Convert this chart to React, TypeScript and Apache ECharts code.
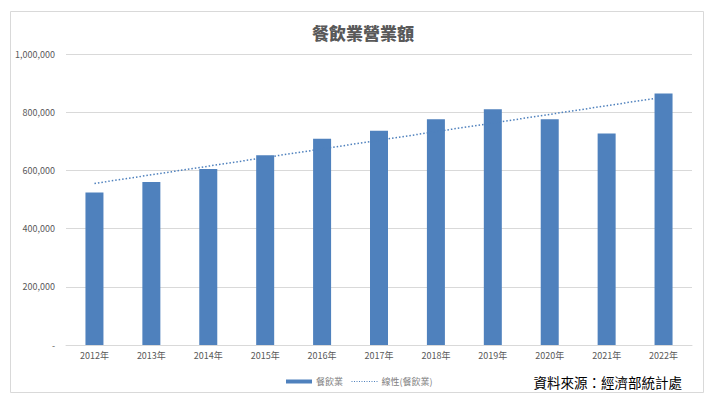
import React, { useEffect, useRef } from "react";
import * as echarts from "echarts";

const title = "餐飲業營業額";
const source = "資料來源：經濟部統計處";
const years = ["2012年", "2013年", "2014年", "2015年", "2016年", "2017年", "2018年", "2019年", "2020年", "2021年", "2022年"];
const revenue = [524000, 560000, 605000, 652000, 709000, 736000, 776000, 810000, 776000, 727000, 864000];
const barName = "餐飲業";
const trendName = "線性(餐飲業)";
const yTicks = [0, 200000, 400000, 600000, 800000, 1000000];

// least-squares linear trend (what Excel's linear trendline shows)
function linearTrend(ys: number[]): number[] {
  const n = ys.length;
  const mx = (n - 1) / 2;
  const my = ys.reduce((a, b) => a + b, 0) / n;
  let sxy = 0;
  let sxx = 0;
  ys.forEach((y, i) => {
    sxy += (i - mx) * (y - my);
    sxx += (i - mx) * (i - mx);
  });
  const slope = sxy / sxx;
  return ys.map((_, i) => my + slope * (i - mx));
}

export default function App() {
  const ref = useRef<HTMLDivElement>(null);
  useEffect(() => {
    if (!ref.current) return;
    const chart = echarts.init(ref.current, null, { renderer: "svg" });
    const font = "'Noto Sans CJK TC', 'Noto Sans', sans-serif";
    chart.setOption({
      animation: false,
      backgroundColor: "#ffffff",
      title: {
        text: title,
        left: 358,
        top: 19,
        textAlign: "center",
        textStyle: { fontFamily: font, fontSize: 17, fontWeight: 900, color: "#595959" },
      },
      grid: { left: 66, right: 17, top: 54, bottom: 55, containLabel: false },
      legend: {
        left: 281,
        top: 372,
        itemWidth: 26,
        itemHeight: 4,
        itemGap: 8,
        textStyle: { fontFamily: font, fontSize: 9, color: "#7F7F7F", padding: [0, 0, 0, -1] },
        data: [
          { name: barName, icon: "rect" },
          {
            name: trendName,
            itemStyle: { opacity: 0 },
            lineStyle: { color: "#4F81BD", width: 1, type: [1, 1.5] },
          },
        ],
      },
      xAxis: {
        type: "category",
        data: years,
        axisLine: { show: true, lineStyle: { color: "#D9D9D9", width: 1 } },
        axisTick: { show: false },
        axisLabel: { fontFamily: font, fontSize: 9, color: "#595959", margin: 6 },
      },
      yAxis: {
        type: "value",
        min: yTicks[0],
        max: yTicks[yTicks.length - 1],
        interval: yTicks[1] - yTicks[0],
        axisLine: { show: false },
        axisTick: { show: false },
        splitLine: { lineStyle: { color: "#D9D9D9", width: 1 } },
        axisLabel: {
          fontFamily: font,
          fontSize: 9,
          color: "#595959",
          margin: 11,
          formatter: (v: number) => (v === 0 ? "-" : v.toLocaleString("en-US")),
        },
      },
      series: [
        {
          name: barName,
          type: "bar",
          data: revenue,
          barWidth: 18,
          itemStyle: { color: "#4F81BD" },
        },
        {
          name: trendName,
          type: "line",
          data: linearTrend(revenue),
          symbol: "none",
          lineStyle: { color: "#4F81BD", width: 1.5, type: [1.5, 2] },
          itemStyle: { color: "#4F81BD" },
          z: 5,
        },
      ],
      graphic: [
        {
          type: "rect",
          shape: { x: 10.5, y: 11.5, width: 693, height: 381 },
          style: { fill: "none", stroke: "#D9D9D9", lineWidth: 1 },
          silent: true,
        },
        {
          type: "text",
          x: 682,
          y: 382,
          style: {
            text: source,
            fontFamily: font,
            fontSize: 13.5,
            fill: "#000000",
            align: "right",
            verticalAlign: "middle",
          },
        },
      ],
    });
    return () => chart.dispose();
  }, []);
  return (
    <div
      ref={ref}
      style={{ position: "fixed", left: 0, top: 0, width: 709, height: 400, background: "#fff" }}
    />
  );
}
